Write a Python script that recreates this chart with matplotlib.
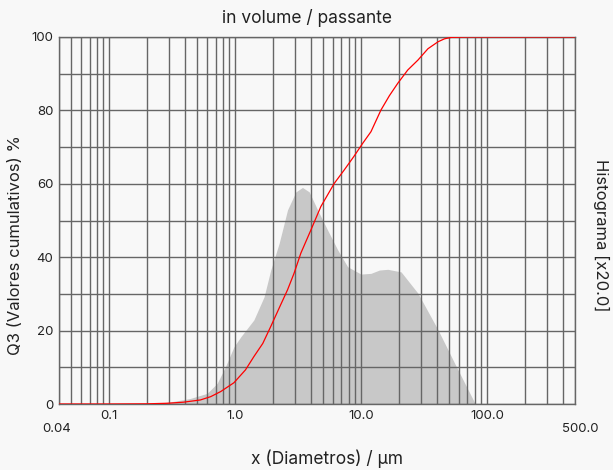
"""
Particle size distribution chart: cumulative Q3 curve over a grey histogram.
"""

import matplotlib

matplotlib.use("Agg")
import matplotlib.pyplot as plt
import numpy as np

plt.rcParams["font.family"] = ["Inter", "DejaVu Sans"]

# Cumulative passing curve (diameter in um, Q3 in %)
q3_x = [0.04, 0.1, 0.2, 0.29, 0.39, 0.53, 0.64, 0.77, 0.98, 1.21, 1.41, 1.66,
        1.92, 2.3, 2.61, 2.94, 3.33, 4.0, 4.8, 6.13, 7.37, 8.8, 10.3, 12.0,
        14.4, 16.8, 19.6, 23.5, 28.3, 34.0, 40.9, 46.0, 52.2, 71.0, 500.0]
q3_y = [0.0, 0.0, 0.05, 0.2, 0.5, 1.1, 2.0, 3.4, 5.8, 9.3, 12.9, 16.5,
        21.1, 27.0, 31.1, 35.6, 41.1, 47.4, 53.8, 60.1, 63.8, 67.5, 71.0, 74.2,
        80.1, 84.0, 87.4, 91.0, 93.7, 96.8, 98.7, 99.5, 99.9, 100.0, 100.0]

# Histogram (already scaled x20, read on the left axis)
hist_x = [0.21, 0.31, 0.44, 0.60, 0.72, 0.84, 0.98, 1.11, 1.41, 1.70, 1.92,
          2.24, 2.61, 3.04, 3.43, 3.88, 4.52, 5.43, 6.53, 7.83, 10.0, 12.0,
          14.0, 16.3, 20.8, 28.3, 40.9, 55.4, 80.0, 82.0]
hist_y = [0.0, 0.6, 1.5, 2.9, 5.6, 10.2, 15.6, 18.3, 22.9, 29.2, 36.5,
          43.8, 52.9, 57.8, 59.0, 57.8, 52.9, 47.4, 42.0, 37.4, 35.4, 35.6,
          36.5, 36.7, 36.0, 30.2, 20.2, 11.1, 0.3, 0.0]

x_ticks = [0.1, 1.0, 10.0, 100.0]
x_tick_labels = ["0.1", "1.0", "10.0", "100.0"]
x_ends = [0.04, 500.0]
x_end_labels = ["0.04", "500.0"]
y_ticks = [0, 20, 40, 60, 80, 100]

BG = "#f8f8f8"
GRID = "#666666"
TXT = "#222222"

fig = plt.figure(figsize=(6.13, 4.70), dpi=100, facecolor=BG)
ax = fig.add_axes([0.0962, 0.1404, 0.8418, 0.7809])
ax.set_facecolor(BG)

ax.fill_between(hist_x, hist_y, 0, color="#c8c8c8", linewidth=0, zorder=1)
ax.plot(q3_x, q3_y, color="#ff0000", linewidth=0.9, zorder=3)

ax.set_xscale("log")
ax.set_xlim(0.04, 500)
ax.set_ylim(0, 100)

# vertical grid at every 1..9 x decade, horizontal every 10
minor_x = [m * 10.0 ** e for e in range(-2, 3) for m in range(1, 10)]
minor_x = [v for v in minor_x if 0.04 <= v <= 500]
ax.set_xticks(minor_x, minor=True)
ax.set_xticks(x_ticks, x_tick_labels)
ax.set_yticks(np.arange(0, 101, 10), minor=True)
ax.set_yticks(y_ticks)

ax.grid(True, which="both", color=GRID, linewidth=1.0, zorder=2)
ax.tick_params(which="both", length=0, labelsize=9.5, colors=TXT)
ax.tick_params(axis="x", pad=4)
ax.tick_params(axis="y", pad=4)
for side in ax.spines.values():
    side.set_color(GRID)
    side.set_linewidth(1.0)

# range ends sit on a second, lower row
for xv, lab, dx in zip(x_ends, x_end_labels, [-1.4, 3.6]):
    ax.annotate(lab, xy=(xv, 0), xycoords=("data", "axes fraction"),
                xytext=(dx, -18), textcoords="offset points",
                ha="center", va="center", fontsize=9.5, color=TXT)

ax.set_title("in volume / passante", fontsize=12.5, color=TXT, x=0.481, pad=10)
ax.set_xlabel("x (Diametros) / µm", fontsize=12.5, color=TXT)
ax.xaxis.set_label_coords(0.519, -0.124)
ax.set_ylabel("Q3 (Valores cumulativos) %", fontsize=12, color=TXT)
ax.yaxis.set_label_coords(-0.07, 0.433)
ax.text(1.05, 0.46, "Histograma [x20.0]", transform=ax.transAxes,
        rotation=-90, ha="center", va="center", fontsize=12, color=TXT)

plt.savefig("out.png", dpi=100, facecolor=BG)
plt.close(fig)
